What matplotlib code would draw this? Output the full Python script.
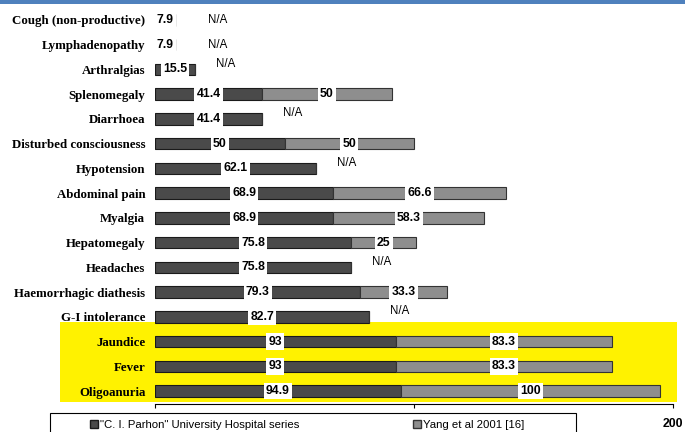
import numpy as np
import matplotlib.pyplot as plt
from matplotlib.patches import Rectangle, Patch

# Symptom frequencies (%)
symptoms = ['Cough (non-productive)', 'Lymphadenopathy', 'Arthralgias', 'Splenomegaly',
            'Diarrhoea', 'Disturbed consciousness', 'Hypotension', 'Abdominal pain',
            'Myalgia', 'Hepatomegaly', 'Headaches', 'Haemorrhagic diathesis',
            'G-I intolerance', 'Jaundice', 'Fever', 'Oligoanuria']
parhon = [7.9, 7.9, 15.5, 41.4, 41.4, 50, 62.1, 68.9, 68.9, 75.8, 75.8, 79.3, 82.7, 93, 93, 94.9]
yang = [None, None, None, 50, None, 50, None, 66.6, 58.3, 25, None, 33.3, None, 83.3, 83.3, 100]
series_names = ['"C. I. Parhon" University Hospital series', 'Yang et al 2001 [16]']
xticks = [0, 100, 200]
xticklabels = ['', '', '200']  # 0 and 100 are hidden behind the legend box

dark = '#4a4a4a'
light = '#8e8e8e'

fig = plt.figure(figsize=(6.85, 4.32), dpi=100)
W, H = 685, 432

# top blue band and yellow highlight
fig.patches.append(Rectangle((0, 1 - 4 / H), 1, 4 / H, transform=fig.transFigure,
                             facecolor='#4f81bd', edgecolor='none', zorder=-1))
fig.patches.append(Rectangle((60 / W, 1 - 402 / H), 617 / W, 80 / H, transform=fig.transFigure,
                             facecolor='#fff200', edgecolor='none', zorder=-1))

ax = fig.add_axes([155 / W, 1 - 404 / H, 518 / W, 398 / H])
ax.patch.set_alpha(0)

y = np.arange(len(symptoms))
yang_vals = np.array([v if v is not None else 0 for v in yang])

ax.barh(y, parhon, height=0.46, color=dark, edgecolor='#1a1a1a', linewidth=0.8, zorder=2)
ax.barh(y, yang_vals, left=parhon, height=0.46, color=light, edgecolor='#333333',
        linewidth=0.8, zorder=2)

box = dict(facecolor='white', edgecolor='none', pad=1.6)
for i, (p, q) in enumerate(zip(parhon, yang)):
    ax.text(p / 2, i, f'{p:g}', ha='center', va='center', fontsize=8.8,
            fontweight='bold', family='Liberation Sans', bbox=box, zorder=3)
    if q is None:
        dy = -0.22 if p > 10 else 0
        ax.text(max(p, 12.5) + 8, i + dy, 'N/A', ha='left', va='center', fontsize=8.3,
                family='Liberation Sans', zorder=3)
    else:
        ax.text(p + q / 2, i, f'{q:g}', ha='center', va='center', fontsize=8.8,
                fontweight='bold', family='Liberation Sans', bbox=box, zorder=3)

ax.set_xlim(0, 200)
ax.set_ylim(len(symptoms) - 0.48, -0.56)
ax.set_yticks(y)
ax.set_yticklabels(symptoms, fontsize=9.3, fontweight='bold', family='Liberation Serif')
ax.tick_params(axis='y', length=0, pad=7)
ax.set_xticks(xticks)
ax.set_xticklabels(xticklabels, fontsize=8.8, fontweight='bold', family='Liberation Sans')
ax.tick_params(axis='x', direction='out', length=3, width=0.8, pad=7)
for s in ['top', 'right', 'left']:
    ax.spines[s].set_visible(False)
ax.spines['bottom'].set_linewidth(0.8)

# legend box
fig.patches.append(Rectangle((50 / W, -0.05), 526 / W, 0.05 + 1 - 413 / H,
                             transform=fig.transFigure, facecolor='white',
                             edgecolor='black', linewidth=0.8, zorder=5))
handles = [Patch(facecolor=dark, edgecolor='#1a1a1a'), Patch(facecolor=light, edgecolor='#333333')]
fig.legend(handles, series_names, loc='center left', bbox_to_anchor=(90 / W, 1 - 425 / H),
           ncol=2, frameon=False, borderpad=0, borderaxespad=0,
           handlelength=0.72, handleheight=0.72, handletextpad=0.2, columnspacing=9.9,
           prop={'family': 'Liberation Sans', 'size': 8.2})

fig.savefig('out.png', dpi=100)
